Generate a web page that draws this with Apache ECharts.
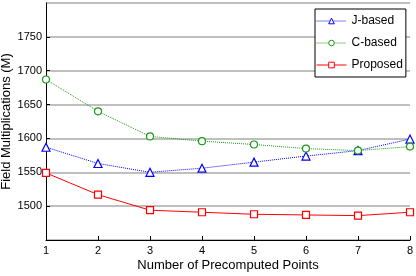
<!DOCTYPE html>
<html>
<head>
<meta charset="utf-8">
<script src="https://cdn.jsdelivr.net/npm/echarts@6/dist/echarts.min.js"></script>
<style>
  html, body { margin: 0; padding: 0; background: #fff; }
  #chart { width: 416px; height: 276px; }
</style>
</head>
<body>
<div id="chart"></div>
<script>
// x = number of precomputed points
var points = [1, 2, 3, 4, 5, 6, 7, 8];
var jBased = [1587, 1563, 1550, 1556, 1565, 1574, 1582, 1599];
var cBased = [1687, 1640, 1603, 1596, 1591, 1585, 1582, 1588];
var proposed = [1549, 1517, 1494, 1491, 1488, 1487, 1486, 1491];

var seriesNames = ['J-based', 'C-based', 'Proposed'];
var colors = ['#0000ff', '#1a9a1a', '#ff0000'];
var lineTypes = ['dotted', 'dotted', 'solid'];

function pairs(vals) {
    return points.map(function (p, i) { return [p, vals[i]]; });
}

var font = 'Liberation Sans, Arial, sans-serif';
var chart = echarts.init(document.getElementById('chart'));

// legend entries drawn hollow like the plot markers
var legendData = seriesNames.map(function (n, i) {
    return {
        name: n,
        lineStyle: { width: 1, type: lineTypes[i], color: colors[i] },
        itemStyle: { color: '#fff', borderColor: colors[i], borderWidth: 1 }
    };
});

chart.setOption({
    animation: false,
    textStyle: { fontFamily: font },
    grid: { left: 46, right: 6, top: 3, bottom: 36, outerBoundsMode: 'none', containLabel: false },
    legend: {
        orient: 'vertical',
        left: 315,
        top: 9,
        padding: [6, 3, 6, 1],
        itemWidth: 30,
        itemHeight: 7,
        itemGap: 10,
        borderColor: '#000',
        borderWidth: 1,
        backgroundColor: '#fff',
        textStyle: { fontFamily: font, fontSize: 12, color: '#000' },
        data: legendData
    },
    xAxis: {
        type: 'value',
        min: 1,
        max: 8,
        interval: 1,
        name: 'Number of Precomputed Points',
        nameLocation: 'middle',
        nameGap: 19,
        nameMoveOverlap: false,
        nameTextStyle: { fontFamily: font, fontSize: 13, color: '#000' },
        axisLine: { lineStyle: { color: '#000', width: 1 } },
        axisTick: { inside: true, length: 4, lineStyle: { color: '#000' } },
        axisLabel: { color: '#000', fontSize: 11, margin: 5 },
        splitLine: { show: false }
    },
    yAxis: {
        type: 'value',
        min: 1450,
        max: 1800,
        interval: 50,
        name: 'Field Multiplications (M)',
        nameLocation: 'middle',
        nameGap: 33,
        nameMoveOverlap: false,
        nameTextStyle: { fontFamily: font, fontSize: 13, color: '#000' },
        axisLine: { show: true, lineStyle: { color: '#000', width: 1 } },
        axisTick: { show: true, inside: true, length: 4, lineStyle: { color: '#000' } },
        axisLabel: {
            color: '#000', fontSize: 11, margin: 4,
            showMinLabel: false, showMaxLabel: false,
            formatter: function (v) { return String(v); }
        },
        splitLine: { show: true, lineStyle: { color: '#aaa', width: 1.5 } }
    },
    series: [
        {
            name: 'J-based',
            type: 'line',
            data: pairs(jBased),
            symbol: 'triangle',
            symbolSize: 8,
            color: colors[0],
            lineStyle: { width: 1, type: 'dotted', color: colors[0] },
            itemStyle: { color: '#fff', borderColor: colors[0], borderWidth: 1.2 }
        },
        {
            name: 'C-based',
            type: 'line',
            data: pairs(cBased),
            symbol: 'circle',
            symbolSize: 7,
            color: colors[1],
            lineStyle: { width: 1, type: 'dotted', color: colors[1] },
            itemStyle: { color: '#fff', borderColor: colors[1], borderWidth: 1.2 }
        },
        {
            name: 'Proposed',
            type: 'line',
            data: pairs(proposed),
            symbol: 'rect',
            symbolSize: 7,
            color: colors[2],
            lineStyle: { width: 1, color: colors[2] },
            itemStyle: { color: '#fff', borderColor: colors[2], borderWidth: 1.2 }
        }
    ]
});
</script>
</body>
</html>
